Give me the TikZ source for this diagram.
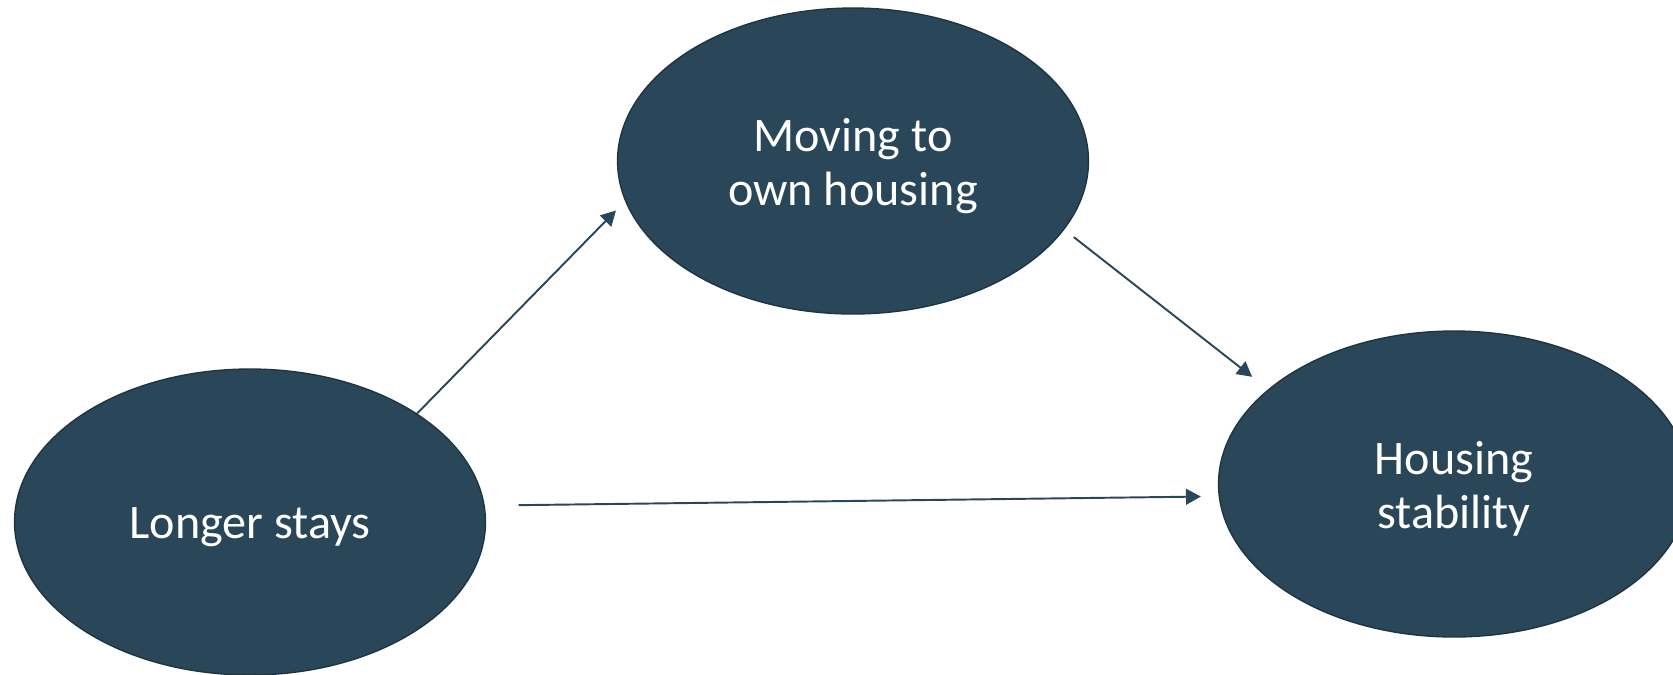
\documentclass[tikz,border=0pt]{standalone}
\usepackage{fontspec}
\setmainfont{Carlito}
\usetikzlibrary{arrows.meta,shapes.geometric}
\definecolor{slate}{HTML}{2A4759}
\definecolor{slateedge}{HTML}{1E3442}

\begin{document}
\begin{tikzpicture}[x=0.02cm,y=-0.02cm,>=Triangle]
      % Styles
      \tikzset{factor/.style={ellipse,fill=slate,draw=slateedge,line width=0.8pt,
                 minimum width=9.42cm,minimum height=6.12cm,inner sep=0pt},
               factortext/.style={text=white,align=center,yshift=-2.8pt,
                 font=\fontsize{27.4}{31}\selectfont},
               path/.style={->,slate,line width=1.1pt,
                 arrows={-Triangle[length=8.5pt,width=9pt]}}}

      % frame of the picture
      \useasboundingbox (0,0) rectangle (1673,674);
      \clip (0,0) rectangle (1673,674);

      % the three factors
      \node[factor,label={[factortext]center:Longer stays}] (stays) at (250,522) {};
      \node[factor,label={[factortext]center:{Moving to\\own housing}}] (own) at (853,161) {};
      \node[factor,label={[factortext]center:{Housing\\stability}}] (stable) at (1454,484) {};

      % paths between them
      \draw[path,shorten >=7.4pt] (stays.33.3) -- (own.190.7);
      \draw[path,shorten <=6.9pt,shorten >=11.5pt] (own.-18.4) -- (stable.153.6);
      \draw[path,shorten <=19.3pt,shorten >=10.1pt] (stays.4.84) -- (stable.183.2);
    \end{tikzpicture}
\end{document}
